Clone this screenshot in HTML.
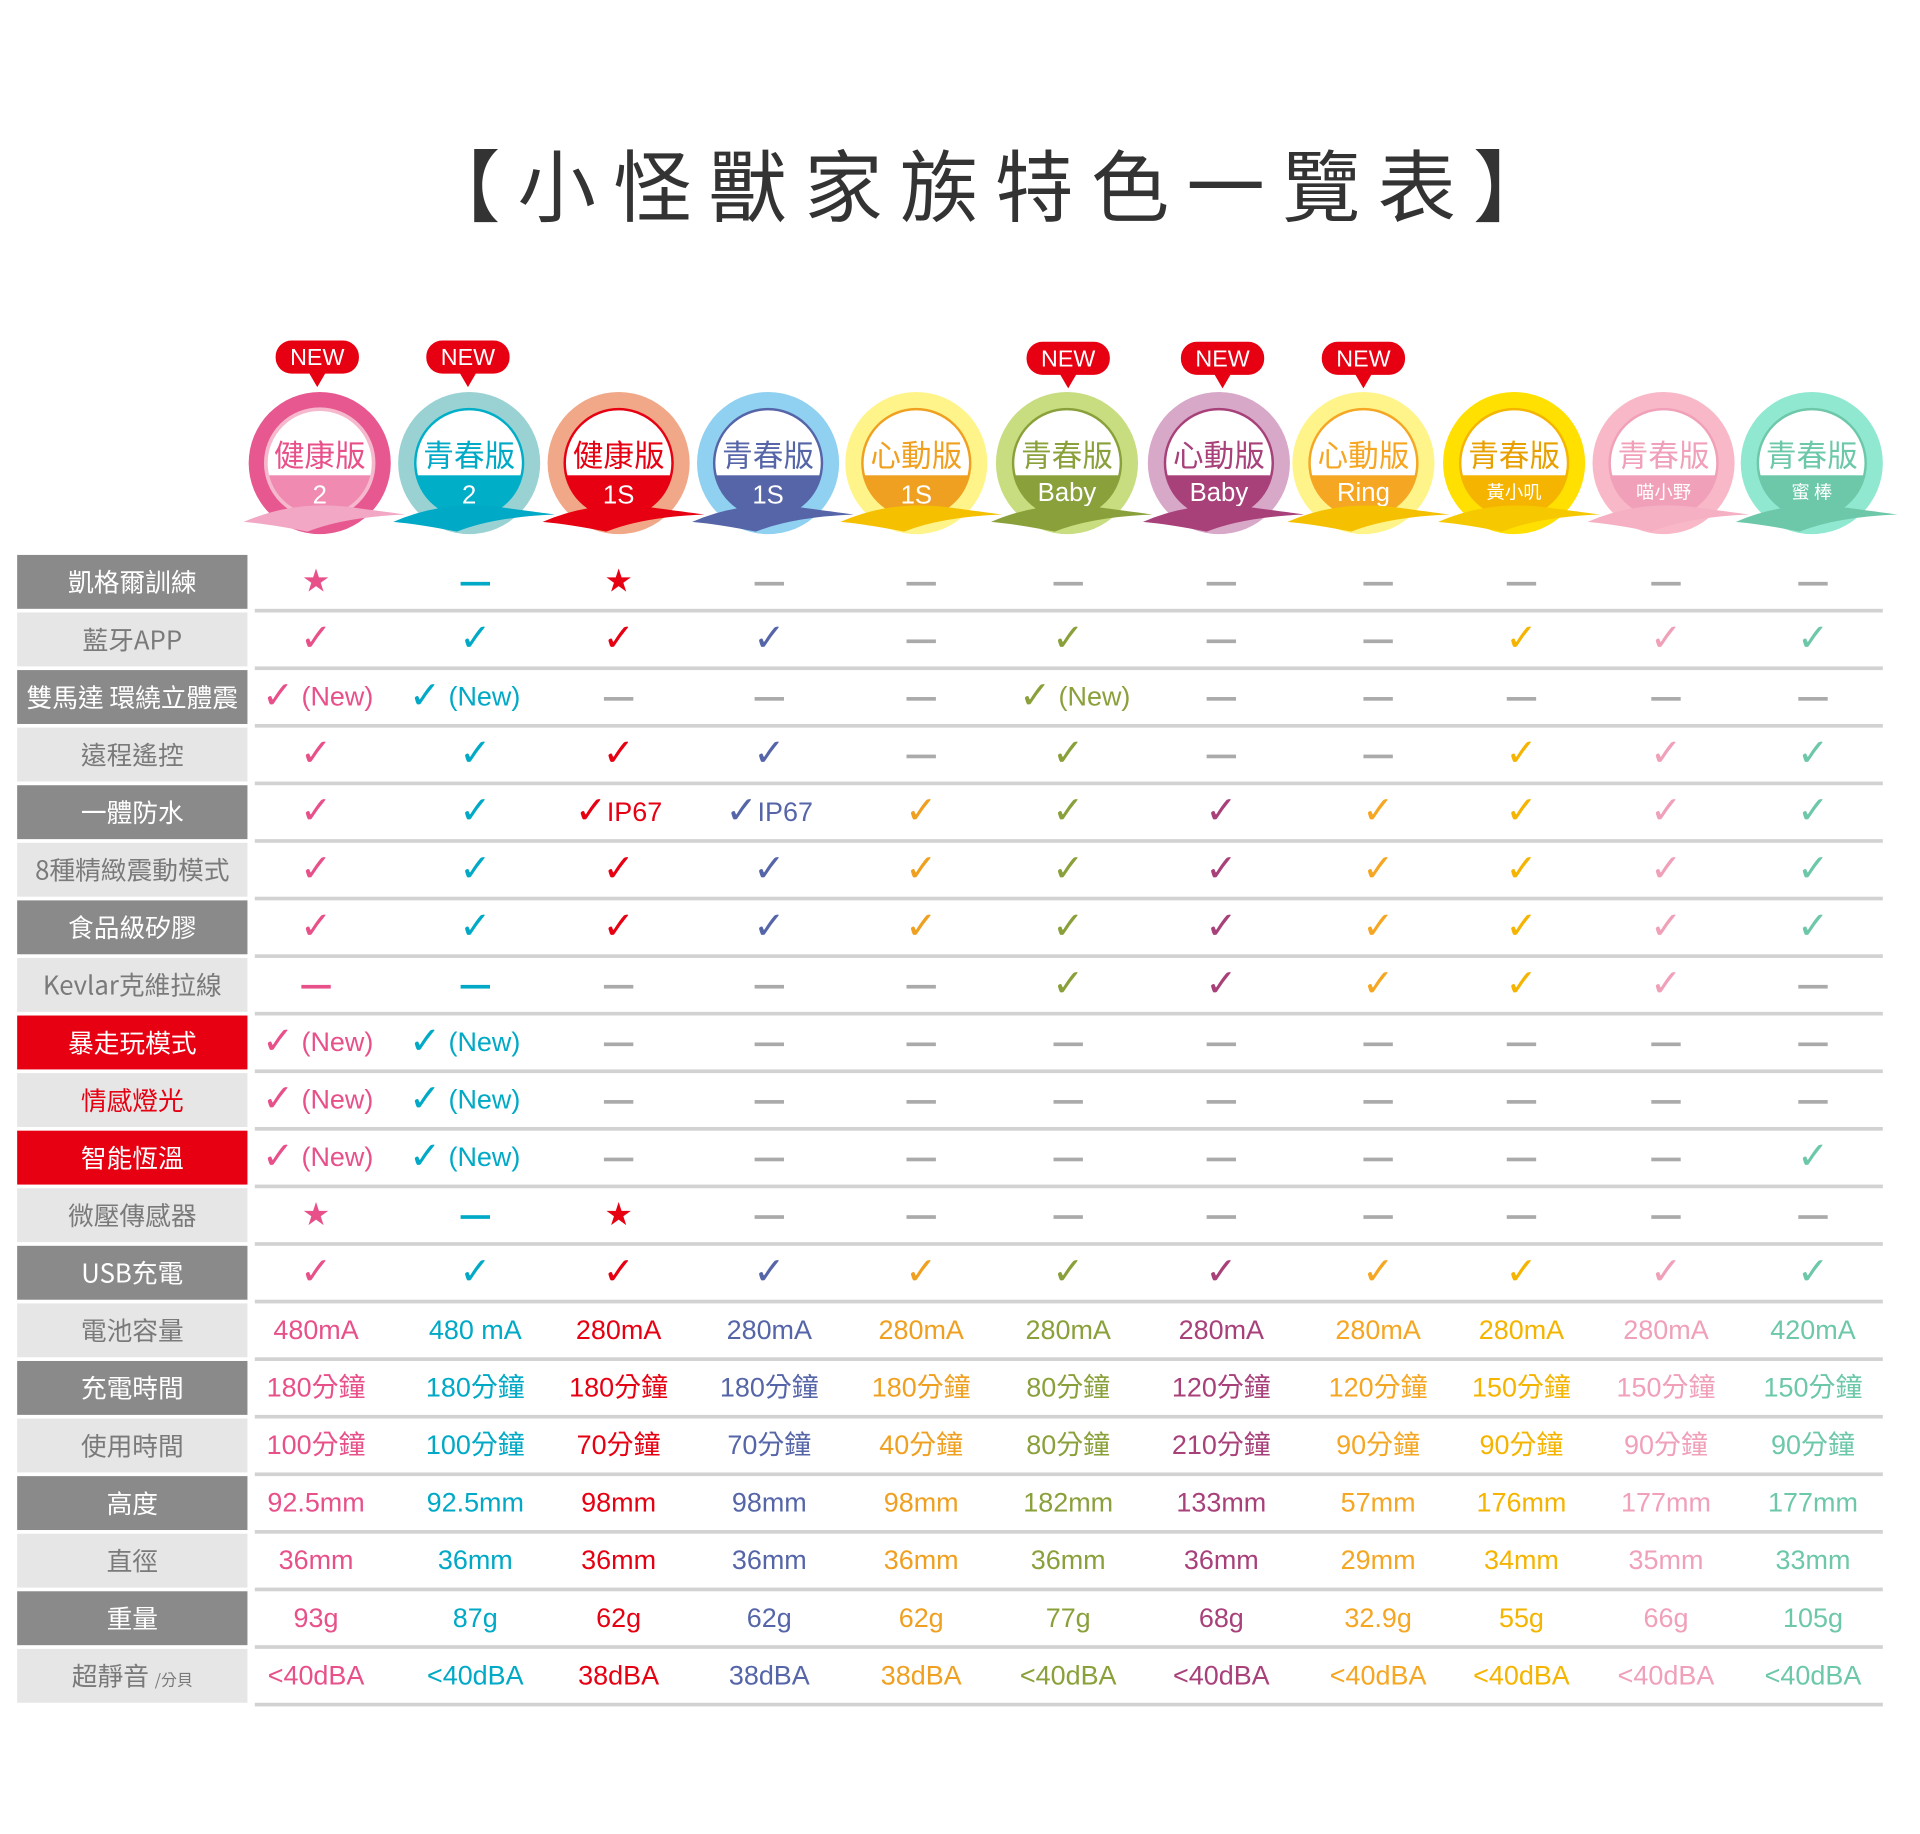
<!DOCTYPE html>
<html><head><meta charset="utf-8"><style>
html,body{margin:0;padding:0;background:#fff;}
body{width:1920px;height:1834px;overflow:hidden;}
#w{position:absolute;left:0;top:0;width:1552px;height:1483px;transform:scale(1.225);transform-origin:0 0;font-family:"Liberation Sans","Noto Sans CJK TC",sans-serif;}
.title{position:absolute;left:0;width:1625px;top:106px;text-align:center;font-size:64px;letter-spacing:14px;color:#333;font-family:"Noto Sans CJK TC",sans-serif;line-height:86px;}
.r{position:absolute;left:0;width:1552px;height:47px;}
.r::after{content:"";position:absolute;left:208px;right:15px;bottom:0;height:3px;background:#d2d2d2;}
.l{position:absolute;left:14px;width:188px;top:0;height:44px;background:#8a8a8a;color:#fff;font-size:21px;line-height:44px;text-align:center;font-family:"Noto Sans CJK TC",sans-serif;}
.l.lt{background:#e6e6e6;color:#7a7a7a;}
.l.red{background:#e60012;color:#fff;}
.l.rt{background:#e6e6e6;color:#e60012;}
.r i{position:absolute;top:0;width:120px;height:44px;line-height:44px;text-align:center;font-style:normal;font-size:22px;white-space:nowrap;}
.r i:nth-of-type(1){left:198px;color:#e8508a}
.r i:nth-of-type(2){left:328px;color:#00a9c6}
.r i:nth-of-type(3){left:445px;color:#e60012}
.r i:nth-of-type(4){left:568px;color:#5565a8}
.r i:nth-of-type(5){left:692px;color:#f0a020}
.r i:nth-of-type(6){left:812px;color:#8aa03a}
.r i:nth-of-type(7){left:937px;color:#a8407a}
.r i:nth-of-type(8){left:1065px;color:#f5a623}
.r i:nth-of-type(9){left:1182px;color:#f5b400}
.r i:nth-of-type(10){left:1300px;color:#f0a0b8}
.r i:nth-of-type(11){left:1420px;color:#6cc8a8}
.r i.n{text-align:left;}
b{font-family:"DejaVu Sans",sans-serif;font-size:31px;font-weight:bold;vertical-align:-2px;line-height:30px;}
s{display:inline-block;width:24px;height:3px;background:#aaa;vertical-align:middle;text-decoration:none;}
s.c{background:currentColor;}
u{text-decoration:none;font-family:"DejaVu Sans",sans-serif;font-size:26px;}
.tt{font-family:"Noto Sans CJK TC",sans-serif;font-size:25px;text-anchor:middle;}
.tb{font-family:"Liberation Sans",sans-serif;font-size:21px;fill:#fff;text-anchor:middle;}
.tc{font-family:"Noto Sans CJK TC",sans-serif;font-size:15px;fill:#fff;text-anchor:middle;}
.nw{font-family:"Liberation Sans",sans-serif;font-size:19px;fill:#fff;text-anchor:middle;}
</style></head><body><div id="w">
<div class="title">【小怪獸家族特色一覽表】</div>
<svg style="position:absolute;left:0;top:260px" width="1552" height="190" viewBox="0 260 1552 190">
<defs><clipPath id="cp"><circle r="44"/></clipPath></defs>
<g fill="#e60012">
<rect x="225" y="278" width="68" height="27" rx="13"/><path d="M252 304h14l-7 12z"/>
<rect x="348" y="278" width="68" height="27" rx="13"/><path d="M375 304h14l-7 12z"/>
<rect x="838" y="279" width="68" height="27" rx="13"/><path d="M865 305h14l-7 12z"/>
<rect x="964" y="279" width="68" height="27" rx="13"/><path d="M991 305h14l-7 12z"/>
<rect x="1079" y="279" width="68" height="27" rx="13"/><path d="M1106 305h14l-7 12z"/>
</g>
<text class="nw" x="259" y="298">NEW</text><text class="nw" x="382" y="298">NEW</text><text class="nw" x="872" y="299">NEW</text><text class="nw" x="998" y="299">NEW</text><text class="nw" x="1113" y="299">NEW</text>

<g transform="translate(261,378)"><circle r="58" fill="#e85890"/><circle r="44" fill="#fff"/><rect x="-45" y="10" width="90" height="40" fill="#f08ab0" clip-path="url(#cp)"/><circle r="44" fill="none" stroke="#f5b8cc" stroke-width="3"/><text class="tt" y="3" fill="#e8508a">健康版</text><text class="tb" y="33">2</text><path d="M-62 48Q-20 30 25 36T70 42Q20 44-10 56Q-40 50-62 48Z" fill="#f2a8c4"/></g>
<g transform="translate(383,378)"><circle r="58" fill="#9ad2d4"/><circle r="44" fill="#fff"/><rect x="-45" y="10" width="90" height="40" fill="#00aec8" clip-path="url(#cp)"/><circle r="44" fill="none" stroke="#00aec8" stroke-width="2"/><text class="tt" y="3" fill="#00a9c6">青春版</text><text class="tb" y="33">2</text><path d="M-62 48Q-20 30 25 36T70 42Q20 44-10 56Q-40 50-62 48Z" fill="#00a9c6"/></g>
<g transform="translate(505,378)"><circle r="58" fill="#f0a888"/><circle r="44" fill="#fff"/><rect x="-45" y="10" width="90" height="40" fill="#e60012" clip-path="url(#cp)"/><circle r="44" fill="none" stroke="#e60012" stroke-width="2"/><text class="tt" y="3" fill="#e60012">健康版</text><text class="tb" y="33">1S</text><path d="M-62 48Q-20 30 25 36T70 42Q20 44-10 56Q-40 50-62 48Z" fill="#e60012"/></g>
<g transform="translate(627,378)"><circle r="58" fill="#90d0f0"/><circle r="44" fill="#fff"/><rect x="-45" y="10" width="90" height="40" fill="#5565a8" clip-path="url(#cp)"/><circle r="44" fill="none" stroke="#5565a8" stroke-width="2"/><text class="tt" y="3" fill="#5565a8">青春版</text><text class="tb" y="33">1S</text><path d="M-62 48Q-20 30 25 36T70 42Q20 44-10 56Q-40 50-62 48Z" fill="#5565a8"/></g>
<g transform="translate(748,378)"><circle r="58" fill="#fff48a"/><circle r="44" fill="#fff"/><rect x="-45" y="10" width="90" height="40" fill="#f0a020" clip-path="url(#cp)"/><circle r="44" fill="none" stroke="#f0a020" stroke-width="2"/><text class="tt" y="3" fill="#f0a020">心動版</text><text class="tb" y="33">1S</text><path d="M-62 48Q-20 30 25 36T70 42Q20 44-10 56Q-40 50-62 48Z" fill="#f5c000"/></g>
<g transform="translate(871,378)"><circle r="58" fill="#c8dc80"/><circle r="44" fill="#fff"/><rect x="-45" y="10" width="90" height="40" fill="#8aa03a" clip-path="url(#cp)"/><circle r="44" fill="none" stroke="#8aa03a" stroke-width="2"/><text class="tt" y="3" fill="#8aa03a">青春版</text><text class="tb" y="31">Baby</text><path d="M-62 48Q-20 30 25 36T70 42Q20 44-10 56Q-40 50-62 48Z" fill="#8aa03a"/></g>
<g transform="translate(995,378)"><circle r="58" fill="#d8a8c8"/><circle r="44" fill="#fff"/><rect x="-45" y="10" width="90" height="40" fill="#a8407a" clip-path="url(#cp)"/><circle r="44" fill="none" stroke="#a8407a" stroke-width="2"/><text class="tt" y="3" fill="#a8407a">心動版</text><text class="tb" y="31">Baby</text><path d="M-62 48Q-20 30 25 36T70 42Q20 44-10 56Q-40 50-62 48Z" fill="#a8407a"/></g>
<g transform="translate(1113,378)"><circle r="58" fill="#fff48a"/><circle r="44" fill="#fff"/><rect x="-45" y="10" width="90" height="40" fill="#f5a623" clip-path="url(#cp)"/><circle r="44" fill="none" stroke="#f5a623" stroke-width="2"/><text class="tt" y="3" fill="#f5a623">心動版</text><text class="tb" y="31">Ring</text><path d="M-62 48Q-20 30 25 36T70 42Q20 44-10 56Q-40 50-62 48Z" fill="#f5c000"/></g>
<g transform="translate(1236,378)"><circle r="58" fill="#ffe000"/><circle r="44" fill="#fff"/><rect x="-45" y="10" width="90" height="40" fill="#f5b400" clip-path="url(#cp)"/><circle r="44" fill="none" stroke="#f5b400" stroke-width="2"/><text class="tt" y="3" fill="#e8a000">青春版</text><text class="tc" y="29">黃小叽</text><path d="M-62 48Q-20 30 25 36T70 42Q20 44-10 56Q-40 50-62 48Z" fill="#f5c800"/></g>
<g transform="translate(1358,378)"><circle r="58" fill="#f8b8c8"/><circle r="44" fill="#fff"/><rect x="-45" y="10" width="90" height="40" fill="#f0a0b8" clip-path="url(#cp)"/><circle r="44" fill="none" stroke="#f0a0b8" stroke-width="2"/><text class="tt" y="3" fill="#f0a0b8">青春版</text><text class="tc" y="29">喵小野</text><path d="M-62 48Q-20 30 25 36T70 42Q20 44-10 56Q-40 50-62 48Z" fill="#f5b0c4"/></g>
<g transform="translate(1479,378)"><circle r="58" fill="#90e8d0"/><circle r="44" fill="#fff"/><rect x="-45" y="10" width="90" height="40" fill="#6cc8a8" clip-path="url(#cp)"/><circle r="44" fill="none" stroke="#6cc8a8" stroke-width="2"/><text class="tt" y="3" fill="#6cc8a8">青春版</text><text class="tc" y="29">蜜 棒</text><path d="M-62 48Q-20 30 25 36T70 42Q20 44-10 56Q-40 50-62 48Z" fill="#6cc8a8"/></g>
</svg>

<div class="r" style="top:453px"><div class="l">凱格爾訓練</div><i><u>★</u></i><i><s class="c"></s></i><i><u>★</u></i><i><s></s></i><i><s></s></i><i><s></s></i><i><s></s></i><i><s></s></i><i><s></s></i><i><s></s></i><i><s></s></i></div>
<div class="r" style="top:500px"><div class="l lt">藍牙APP</div><i><b>✓</b></i><i><b>✓</b></i><i><b>✓</b></i><i><b>✓</b></i><i><s></s></i><i><b>✓</b></i><i><s></s></i><i><s></s></i><i><b>✓</b></i><i><b>✓</b></i><i><b>✓</b></i></div>
<div class="r" style="top:547px"><div class="l">雙馬達 環繞立體震</div><i class="n" style="padding-left:16px"><b>✓</b> (New)</i><i class="n" style="padding-left:6px"><b>✓</b> (New)</i><i><s></s></i><i><s></s></i><i><s></s></i><i class="n" style="padding-left:20px"><b>✓</b> (New)</i><i><s></s></i><i><s></s></i><i><s></s></i><i><s></s></i><i><s></s></i></div>
<div class="r" style="top:594px"><div class="l lt">遠程遙控</div><i><b>✓</b></i><i><b>✓</b></i><i><b>✓</b></i><i><b>✓</b></i><i><s></s></i><i><b>✓</b></i><i><s></s></i><i><s></s></i><i><b>✓</b></i><i><b>✓</b></i><i><b>✓</b></i></div>
<div class="r" style="top:641px"><div class="l">一體防水</div><i><b>✓</b></i><i><b>✓</b></i><i><b>✓</b>IP67</i><i><b>✓</b>IP67</i><i><b>✓</b></i><i><b>✓</b></i><i><b>✓</b></i><i><b>✓</b></i><i><b>✓</b></i><i><b>✓</b></i><i><b>✓</b></i></div>
<div class="r" style="top:688px"><div class="l lt">8種精緻震動模式</div><i><b>✓</b></i><i><b>✓</b></i><i><b>✓</b></i><i><b>✓</b></i><i><b>✓</b></i><i><b>✓</b></i><i><b>✓</b></i><i><b>✓</b></i><i><b>✓</b></i><i><b>✓</b></i><i><b>✓</b></i></div>
<div class="r" style="top:735px"><div class="l">食品級矽膠</div><i><b>✓</b></i><i><b>✓</b></i><i><b>✓</b></i><i><b>✓</b></i><i><b>✓</b></i><i><b>✓</b></i><i><b>✓</b></i><i><b>✓</b></i><i><b>✓</b></i><i><b>✓</b></i><i><b>✓</b></i></div>
<div class="r" style="top:782px"><div class="l lt">Kevlar克維拉線</div><i><s class="c"></s></i><i><s class="c"></s></i><i><s></s></i><i><s></s></i><i><s></s></i><i><b>✓</b></i><i><b>✓</b></i><i><b>✓</b></i><i><b>✓</b></i><i><b>✓</b></i><i><s></s></i></div>
<div class="r" style="top:829px"><div class="l red">暴走玩模式</div><i class="n" style="padding-left:16px"><b>✓</b> (New)</i><i class="n" style="padding-left:6px"><b>✓</b> (New)</i><i><s></s></i><i><s></s></i><i><s></s></i><i><s></s></i><i><s></s></i><i><s></s></i><i><s></s></i><i><s></s></i><i><s></s></i></div>
<div class="r" style="top:876px"><div class="l rt">情感燈光</div><i class="n" style="padding-left:16px"><b>✓</b> (New)</i><i class="n" style="padding-left:6px"><b>✓</b> (New)</i><i><s></s></i><i><s></s></i><i><s></s></i><i><s></s></i><i><s></s></i><i><s></s></i><i><s></s></i><i><s></s></i><i><s></s></i></div>
<div class="r" style="top:923px"><div class="l red">智能恆溫</div><i class="n" style="padding-left:16px"><b>✓</b> (New)</i><i class="n" style="padding-left:6px"><b>✓</b> (New)</i><i><s></s></i><i><s></s></i><i><s></s></i><i><s></s></i><i><s></s></i><i><s></s></i><i><s></s></i><i><s></s></i><i><b>✓</b></i></div>
<div class="r" style="top:970px"><div class="l lt">微壓傳感器</div><i><u>★</u></i><i><s class="c"></s></i><i><u>★</u></i><i><s></s></i><i><s></s></i><i><s></s></i><i><s></s></i><i><s></s></i><i><s></s></i><i><s></s></i><i><s></s></i></div>
<div class="r" style="top:1017px"><div class="l">USB充電</div><i><b>✓</b></i><i><b>✓</b></i><i><b>✓</b></i><i><b>✓</b></i><i><b>✓</b></i><i><b>✓</b></i><i><b>✓</b></i><i><b>✓</b></i><i><b>✓</b></i><i><b>✓</b></i><i><b>✓</b></i></div>
<div class="r" style="top:1064px"><div class="l lt">電池容量</div><i>480mA</i><i>480 mA</i><i>280mA</i><i>280mA</i><i>280mA</i><i>280mA</i><i>280mA</i><i>280mA</i><i>280mA</i><i>280mA</i><i>420mA</i></div>
<div class="r" style="top:1111px"><div class="l">充電時間</div><i>180分鐘</i><i>180分鐘</i><i>180分鐘</i><i>180分鐘</i><i>180分鐘</i><i>80分鐘</i><i>120分鐘</i><i>120分鐘</i><i>150分鐘</i><i>150分鐘</i><i>150分鐘</i></div>
<div class="r" style="top:1158px"><div class="l lt">使用時間</div><i>100分鐘</i><i>100分鐘</i><i>70分鐘</i><i>70分鐘</i><i>40分鐘</i><i>80分鐘</i><i>210分鐘</i><i>90分鐘</i><i>90分鐘</i><i>90分鐘</i><i>90分鐘</i></div>
<div class="r" style="top:1205px"><div class="l">高度</div><i>92.5mm</i><i>92.5mm</i><i>98mm</i><i>98mm</i><i>98mm</i><i>182mm</i><i>133mm</i><i>57mm</i><i>176mm</i><i>177mm</i><i>177mm</i></div>
<div class="r" style="top:1252px"><div class="l lt">直徑</div><i>36mm</i><i>36mm</i><i>36mm</i><i>36mm</i><i>36mm</i><i>36mm</i><i>36mm</i><i>29mm</i><i>34mm</i><i>35mm</i><i>33mm</i></div>
<div class="r" style="top:1299px"><div class="l">重量</div><i>93g</i><i>87g</i><i>62g</i><i>62g</i><i>62g</i><i>77g</i><i>68g</i><i>32.9g</i><i>55g</i><i>66g</i><i>105g</i></div>
<div class="r" style="top:1346px"><div class="l lt">超靜音 <span style="font-size:13px">/分貝</span></div><i>&lt;40dBA</i><i>&lt;40dBA</i><i>38dBA</i><i>38dBA</i><i>38dBA</i><i>&lt;40dBA</i><i>&lt;40dBA</i><i>&lt;40dBA</i><i>&lt;40dBA</i><i>&lt;40dBA</i><i>&lt;40dBA</i></div>
</div></body></html>
